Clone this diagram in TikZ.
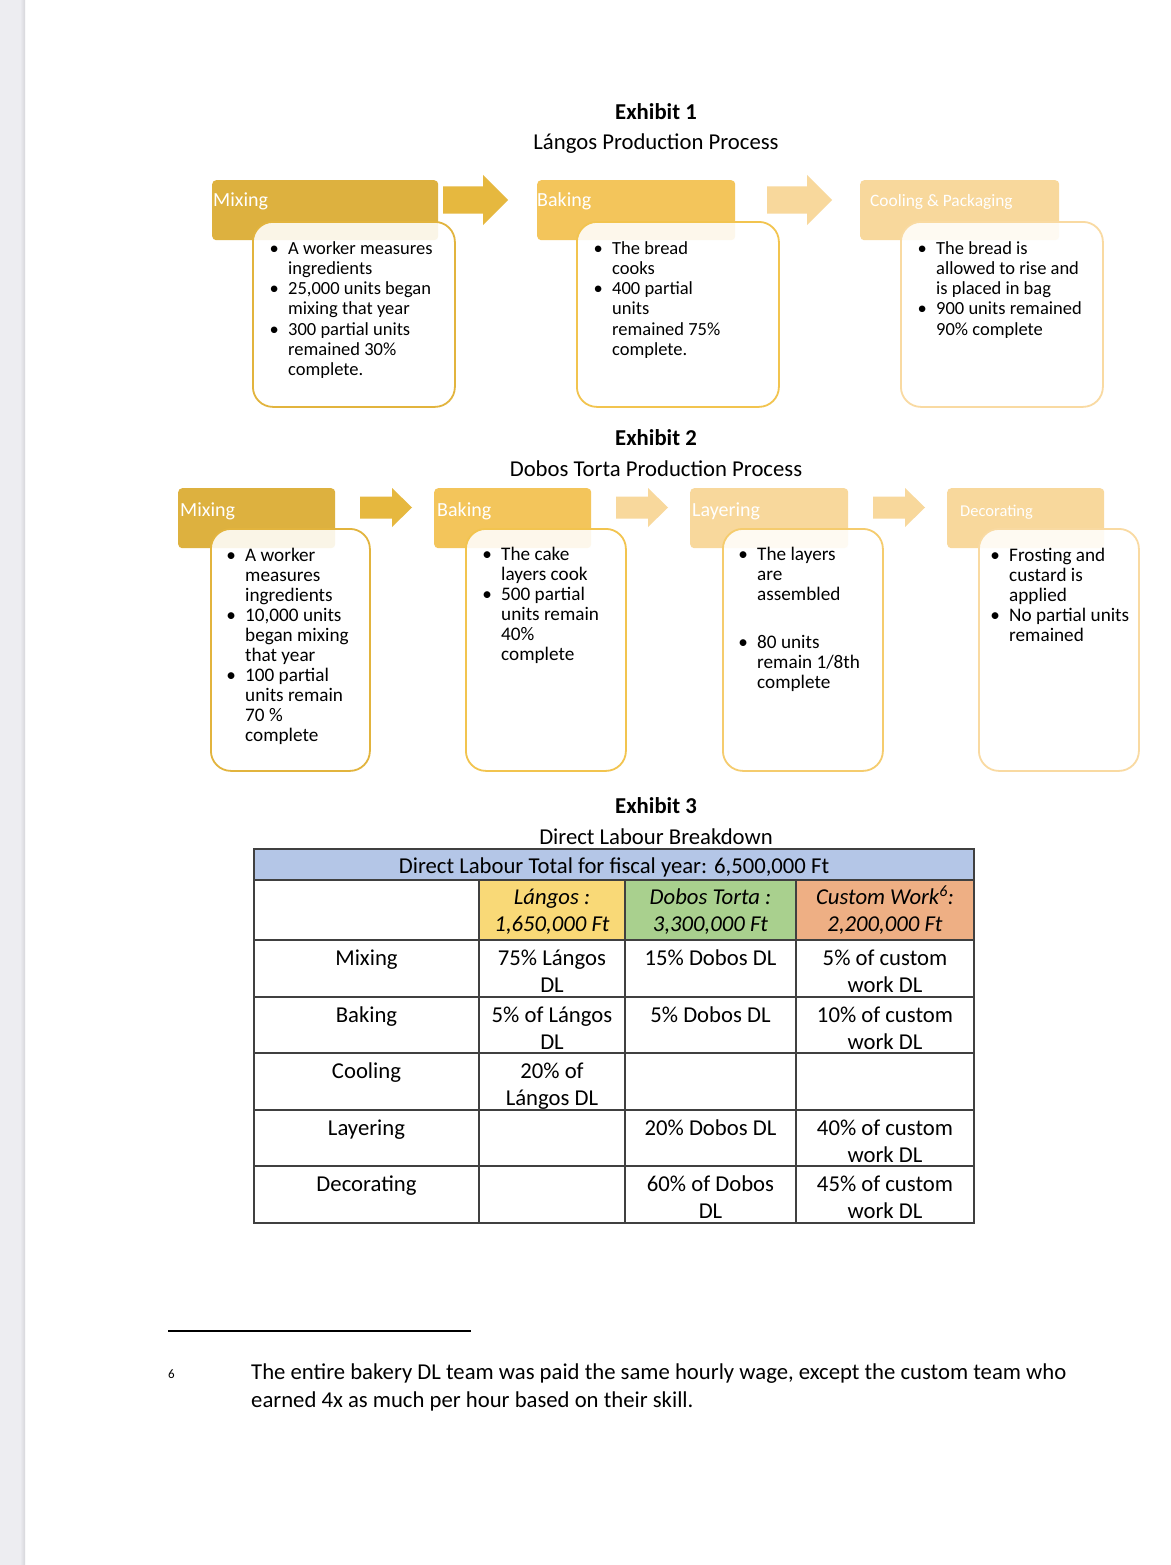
\documentclass[tikz,border=0pt]{standalone}
\usepackage{fontspec}
\setmainfont{Carlito}
\definecolor{goldA}{HTML}{DDB13F}
\definecolor{goldAr}{HTML}{E6B83F}
\definecolor{goldB}{HTML}{F3C55B}
\definecolor{goldC}{HTML}{F8D89C}
\definecolor{bordA}{HTML}{E2B43E}
\definecolor{bordB}{HTML}{F2C44F}
\definecolor{bordL}{HTML}{F5CC6E}
\definecolor{bordC}{HTML}{F9DAA2}
\definecolor{tblue}{HTML}{B4C6E7}
\definecolor{tlang}{HTML}{F9D977}
\definecolor{tdob}{HTML}{A9D08E}
\definecolor{tcus}{HTML}{EEAF84}
\definecolor{tline}{HTML}{404040}
\definecolor{margin}{HTML}{EDEDF1}
\definecolor{marginD}{HTML}{D6D6DB}
\newcommand\bitem{\makebox[28pt][c]{\textbullet}}
\newcommand\twol[2]{\begin{tabular}[t]{@{}c@{}}#1\\#2\end{tabular}}
\newcommand\BlkArrow[7]{\fill[#1] (#2,#5-#6) -- (#3,#5-#6) -- (#3,#5-#7) -- (#4,#5) -- (#3,#5+#7) -- (#3,#5+#6) -- (#2,#5+#6) -- cycle;}
\begin{document}
\begin{tikzpicture}[x=1pt,y=-1pt,
  hdrbox/.style={anchor=north west, rounded corners=4pt, inner sep=0pt, draw=none},
  hdrlabel/.style={anchor=base west, inner sep=0pt, yshift=-2pt, text=white, font=\fontsize{20}{24}\selectfont},
  bodybox/.style={anchor=north west, rounded corners=20pt, fill=white, fill opacity=0.88, line width=1.8pt, inner sep=0pt},
  bodyA/.style={anchor=base west, inner sep=0pt, yshift=-1pt, font=\fontsize{18.5}{20.3}\selectfont},
  bodyB/.style={anchor=base west, inner sep=0pt, yshift=-1pt, font=\fontsize{19.2}{20.1}\selectfont},
  ttl/.style={anchor=base, inner sep=0pt, yshift=-1.5pt, font=\fontsize{22.7}{27}\selectfont},
  cell/.style={anchor=base, inner sep=0pt, yshift=-1.2pt, font=\fontsize{22.7}{27}\selectfont},
  tl/.style={draw=tline, line width=1.5pt}]
\useasboundingbox (0,0) rectangle (1170,1565);
\fill[white] (0,0) rectangle (1170,1565);
\fill[margin] (0,0) rectangle (22,1565);
\shade[left color=margin, right color=marginD] (20,0) rectangle (25,1565);

% ---------- Exhibit 1 ----------
\node[ttl] (t1) at (656,118) {\bfseries Exhibit 1};
\node[ttl] (s1) at (656,148) {Lángos Production Process};

\node[hdrbox, fill=goldA, minimum width=226pt, minimum height=60pt] (h1a) at (212,180) {};
\node[hdrbox, fill=goldB, minimum width=198pt, minimum height=60pt] (h1b) at (537,180) {};
\node[hdrbox, fill=goldC, minimum width=199pt, minimum height=60pt] (h1c) at (860,180) {};
\node[hdrlabel] (l1a) at (213,204) {Mixing};
\node[hdrlabel] (l1b) at (537,204) {Baking};
\node[hdrlabel, font=\fontsize{17.4}{20}\selectfont] (l1c) at (870,204) {Cooling \& Packaging};
\BlkArrow{goldAr}{443}{483}{508}{200}{13.5}{25}
\BlkArrow{goldC}{767}{807}{832}{200}{13.5}{25}

\node[bodybox, draw=bordA, minimum width=202pt, minimum height=185pt] (b1a) at (252,221) {};
\node[bodybox, draw=bordB, minimum width=202pt, minimum height=185pt] (b1b) at (576,221) {};
\node[bodybox, draw=bordC, minimum width=202pt, minimum height=185pt] (b1c) at (900,221) {};

\node[bodyA] (x1a) at (260,253) {\begin{tabular}[t]{@{}l@{}l@{}}
\bitem & A worker measures\\ & ingredients\\
\bitem & 25,000 units began\\ & mixing that year\\
\bitem & 300 partial units\\ & remained 30\%\\ & complete.\end{tabular}};
\node[bodyA] (x1b) at (584,253) {\begin{tabular}[t]{@{}l@{}l@{}}
\bitem & The bread\\ & cooks\\
\bitem & 400 partial\\ & units\\ & remained 75\%\\ & complete.\end{tabular}};
\node[bodyA] (x1c) at (908,253) {\begin{tabular}[t]{@{}l@{}l@{}}
\bitem & The bread is\\ & allowed to rise and\\ & is placed in bag\\
\bitem & 900 units remained\\ & 90\% complete\end{tabular}};

% ---------- Exhibit 2 ----------
\node[ttl] (t2) at (656,444) {\bfseries Exhibit 2};
\node[ttl] (s2) at (656,475) {Dobos Torta Production Process};

\node[hdrbox, fill=goldA, minimum width=157pt, minimum height=60pt] (h2a) at (178,488) {};
\node[hdrbox, fill=goldB, minimum width=157pt, minimum height=60pt] (h2b) at (434,488) {};
\node[hdrbox, fill=goldC, minimum width=158pt, minimum height=60pt] (h2c) at (690,488) {};
\node[hdrbox, fill=goldC, minimum width=157pt, minimum height=60pt] (h2d) at (947,488) {};
\node[hdrlabel] (l2a) at (180,514) {Mixing};
\node[hdrlabel] (l2b) at (437,514) {Baking};
\node[hdrlabel] (l2c) at (692,514) {Layering};
\node[hdrlabel, font=\fontsize{16.5}{20}\selectfont] (l2d) at (960,514) {Decorating};
\BlkArrow{goldAr}{360}{392}{412}{507.5}{11}{19.5}
\BlkArrow{goldC}{616}{648}{668}{507.5}{11}{19.5}
\BlkArrow{goldC}{873}{905}{925}{507.5}{11}{19.5}

\node[bodybox, draw=bordA, minimum width=159pt, minimum height=242pt] (b2a) at (210,528) {};
\node[bodybox, draw=bordB, minimum width=160pt, minimum height=242pt] (b2b) at (465,528) {};
\node[bodybox, draw=bordL, minimum width=160pt, minimum height=242pt] (b2c) at (722,528) {};
\node[bodybox, draw=bordC, minimum width=160pt, minimum height=242pt] (b2d) at (978,528) {};

\node[bodyB] (x2a) at (217,560) {\begin{tabular}[t]{@{}l@{}l@{}}
\bitem & A worker\\ & measures\\ & ingredients\\
\bitem & 10,000 units\\ & began mixing\\ & that year\\
\bitem & 100 partial\\ & units remain\\ & 70 \%\\ & complete\end{tabular}};
\node[bodyB] (x2b) at (473,559) {\begin{tabular}[t]{@{}l@{}l@{}}
\bitem & The cake\\ & layers cook\\
\bitem & 500 partial\\ & units remain\\ & 40\%\\ & complete\end{tabular}};
\node[bodyB] (x2c) at (729,559) {\begin{tabular}[t]{@{}l@{}l@{}}
\bitem & The layers\\ & are\\ & assembled\\[28pt]
\bitem & 80 units\\ & remain 1/8th\\ & complete\end{tabular}};
\node[bodyB] (x2d) at (981,560) {\begin{tabular}[t]{@{}l@{}l@{}}
\bitem & Frosting and\\ & custard is\\ & applied\\
\bitem & No partial units\\ & remained\end{tabular}};

% ---------- Exhibit 3 ----------
\node[ttl] (t3) at (656,812) {\bfseries Exhibit 3};
\node[ttl] (s3) at (656,843) {Direct Labour Breakdown};

\fill[tblue] (254,849) rectangle (974,880);
\fill[tlang] (479,880) rectangle (625,940);
\fill[tdob] (625,880) rectangle (796,940);
\fill[tcus] (796,880) rectangle (974,940);
\draw[tl] (254,849) rectangle (974,1223);
\foreach \yy in {880,940,997,1053,1110,1166} \draw[tl] (254,\yy) -- (974,\yy);
\foreach \xx in {479,625,796} \draw[tl] (\xx,880) -- (\xx,1223);

\node[cell] (hd) at (614,872) {Direct Labour Total for fiscal year: 6,500,000 Ft};
\node[cell] (hl) at (552,903) {\itshape\twol{Lángos :}{1,650,000 Ft}};
\node[cell] (hdb) at (710.5,903) {\itshape\twol{Dobos Torta :}{3,300,000 Ft}};
\node[cell] (hc) at (885,903) {\itshape\twol{Custom Work\textsuperscript{6}:}{2,200,000 Ft}};

\node[cell] (r1) at (366.5,964) {Mixing};
\node[cell] (r1a) at (552,964) {\twol{75\% Lángos}{DL}};
\node[cell] (r1b) at (710.5,964) {15\% Dobos DL};
\node[cell] (r1c) at (885,964) {\twol{5\% of custom}{work DL}};

\node[cell] (r2) at (366.5,1021) {Baking};
\node[cell] (r2a) at (552,1021) {\twol{5\% of Lángos}{DL}};
\node[cell] (r2b) at (710.5,1021) {5\% Dobos DL};
\node[cell] (r2c) at (885,1021) {\twol{10\% of custom}{work DL}};

\node[cell] (r3) at (366.5,1077) {Cooling};
\node[cell] (r3a) at (552,1077) {\twol{20\% of}{Lángos DL}};

\node[cell] (r4) at (366.5,1134) {Layering};
\node[cell] (r4b) at (710.5,1134) {20\% Dobos DL};
\node[cell] (r4c) at (885,1134) {\twol{40\% of custom}{work DL}};

\node[cell] (r5) at (366.5,1190) {Decorating};
\node[cell] (r5b) at (710.5,1190) {\twol{60\% of Dobos}{DL}};
\node[cell] (r5c) at (885,1190) {\twol{45\% of custom}{work DL}};

% ---------- Footnote ----------
\coordinate (fnl) at (168,1331);
\coordinate (fnr) at (471,1331);
\draw[line width=1.8pt] (fnl) -- (fnr);
\node[anchor=base west, inner sep=0pt, font=\fontsize{13}{15}\selectfont] (fnm) at (168,1378) {6};
\node[anchor=base west, inner sep=0pt, yshift=-1pt, font=\fontsize{22.7}{28}\selectfont] (fnt) at (251,1378) {\begin{tabular}[t]{@{}l@{}}The entire bakery DL team was paid the same hourly wage, except the custom team who\\ earned 4x as much per hour based on their skill.\end{tabular}};
\end{tikzpicture}
\end{document}
